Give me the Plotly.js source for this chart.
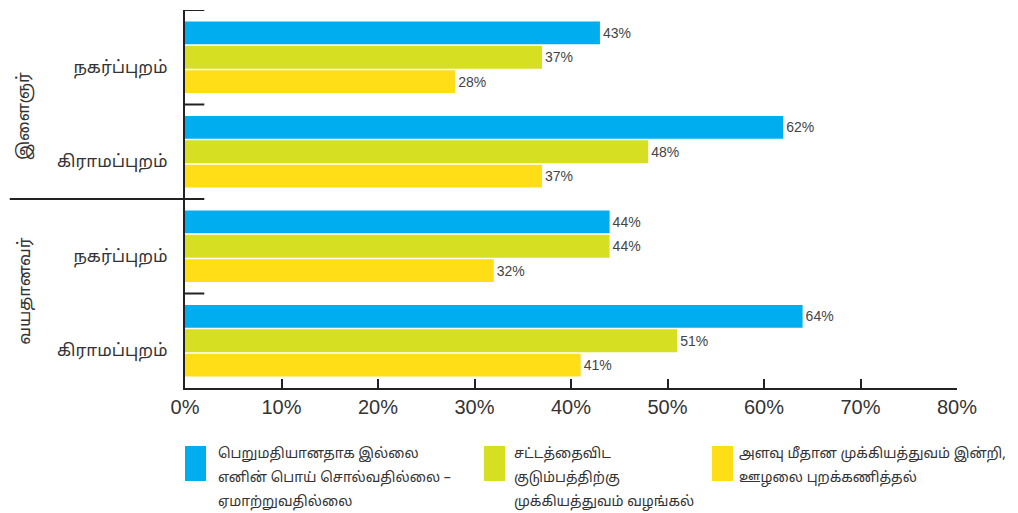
<!DOCTYPE html>
<html>
<head>
<meta charset="utf-8">
<script src="https://cdn.plot.ly/plotly-3.0.1.min.js"></script>
<style>html,body{margin:0;padding:0;background:#fff;}#chart{width:1018px;height:513px;}</style>
</head>
<body>
<div id="chart"></div>
<script>
const categories = ['நகர்ப்புறம்', 'கிராமப்புறம்', 'நகர்ப்புறம்', 'கிராமப்புறம்'];
const groups = ['இளைஞர்', 'வயதானவர்'];
const seriesNames = [
  ['பெறுமதியானதாக இல்லை', 'எனின் பொய் சொல்வதில்லை –', 'ஏமாற்றுவதில்லை'],
  ['சட்டத்தைவிட', 'குடும்பத்திற்கு', 'முக்கியத்துவம் வழங்கல்'],
  ['அளவு மீதான முக்கியத்துவம் இன்றி,', 'ஊழலை புறக்கணித்தல்']
];
const seriesA = [43, 62, 44, 64];
const seriesB = [37, 48, 44, 51];
const seriesC = [28, 37, 32, 41];
const xTickVals = [0, 10, 20, 30, 40, 50, 60, 70, 80];
const xTickText = ['0%', '10%', '20%', '30%', '40%', '50%', '60%', '70%', '80%'];

const colors = ['#00AEEF', '#D7DF23', '#FFDD17'];
const yIdx = categories.map((_, i) => i);
const numFont = 'Liberation Sans Narrow, Arial Narrow, Liberation Sans, sans-serif';
const tamilFont = 'Noto Sans Tamil, Latha, Noto Sans, sans-serif';

const traces = [seriesA, seriesB, seriesC].map((vals, k) => ({
  type: 'bar',
  orientation: 'h',
  x: vals,
  y: yIdx,
  name: seriesNames[k].join(' '),
  marker: {color: colors[k]},
  text: vals.map(v => v + '%'),
  textposition: 'outside',
  textfont: {family: numFont, size: 14, color: '#444'},
  cliponaxis: false,
  hoverinfo: 'skip',
  showlegend: false
}));

const shapes = [];
// right-pointing group ticks
[-0.5, 0.5, 2.5].forEach(y => shapes.push({
  type: 'line', xref: 'paper', yref: 'y', x0: 0, x1: 0.025, y0: y, y1: y,
  line: {color: '#222', width: 2}
}));
// separator between groups
shapes.push({
  type: 'line', xref: 'paper', yref: 'y', x0: -0.227, x1: 0.025, y0: 1.5, y1: 1.5,
  line: {color: '#222', width: 2}
});

const annotations = [
  {text: groups[0], xref: 'paper', yref: 'y', x: -0.207, y: 0.62, textangle: -90,
   showarrow: false, xanchor: 'center', yanchor: 'middle', font: {family: tamilFont, size: 17, color: '#333'}},
  {text: groups[1], xref: 'paper', yref: 'y', x: -0.207, y: 2.47, textangle: -90,
   showarrow: false, xanchor: 'center', yanchor: 'middle', font: {family: tamilFont, size: 17, color: '#333'}}
];

// custom legend
const legX = [185, 484, 712];
const legTextX = [217, 513, 738];
const L = 185, R = 957, PW = R - L, PB = 388, PH = 378;
const px2paperX = p => (p - L) / PW;
const px2paperY = p => -(p - PB) / PH;
seriesNames.forEach((lines, k) => {
  shapes.push({
    type: 'rect', xref: 'paper', yref: 'paper',
    x0: px2paperX(legX[k]), x1: px2paperX(legX[k] + 21),
    y0: px2paperY(446), y1: px2paperY(481),
    fillcolor: colors[k], line: {width: 0}
  });
  lines.forEach((ln, j) => {
    annotations.push({
      text: ln, xref: 'paper', yref: 'paper',
      x: px2paperX(legTextX[k]), y: px2paperY(454 + j * 24),
      xanchor: 'left', yanchor: 'middle', align: 'left', showarrow: false,
      borderpad: 0,
      font: {family: tamilFont, size: 14, color: '#333'}
    });
  });
});

const layout = {
  width: 1018, height: 513,
  margin: {l: 185, r: 61, t: 10, b: 125},
  paper_bgcolor: '#fff', plot_bgcolor: '#fff',
  barmode: 'group',
  bargap: 0.227,
  bargroupgap: 0.06,
  xaxis: {
    range: [0, 80], tickvals: xTickVals, ticktext: xTickText,
    showgrid: false, zeroline: false, showline: true, linecolor: '#222', linewidth: 2,
    ticks: 'inside', ticklen: 9, tickwidth: 2, tickcolor: '#222',
    tickfont: {family: numFont, size: 20, color: '#333'}
  },
  yaxis: {
    range: [3.5, -0.5], tickvals: yIdx.map(i => i + 0.1), ticktext: categories,
    showgrid: false, zeroline: false, showline: true, linecolor: '#222', linewidth: 2,
    ticks: '', ticklabelstandoff: 12,
    tickfont: {family: tamilFont, size: 17, color: '#333'}
  },
  shapes: shapes,
  annotations: annotations,
  showlegend: false
};

Plotly.newPlot('chart', traces, layout, {displayModeBar: false, staticPlot: true});
</script>
</body>
</html>
